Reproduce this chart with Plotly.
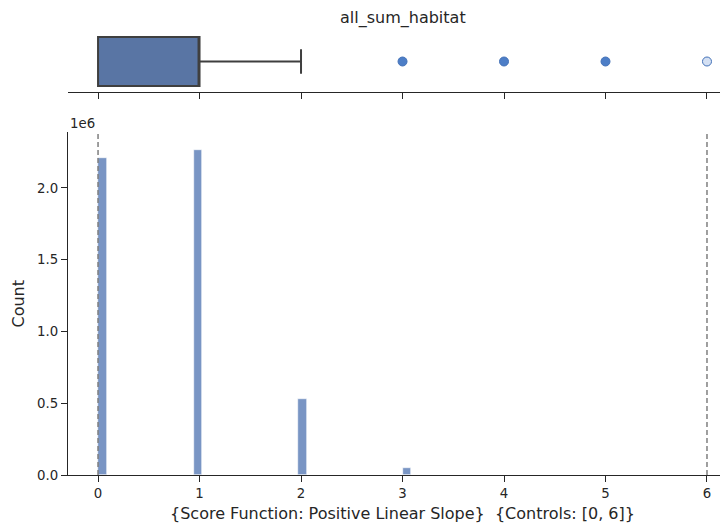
import numpy as np
import plotly.graph_objects as go

# ---- data ----
score_values = [0, 1, 2, 3, 4, 5, 6]
score_counts = [2209000, 2265000, 530000, 49000, 2000, 200, 10]
n_bins = 70
controls = [0, 6]
box_q1, box_median, box_q3 = 0, 1, 1
box_lower, box_upper = 0, 2
outliers = [3, 4, 5, 6]
title_text = "all_sum_habitat"
x_title = "{Score Function: Positive Linear Slope}  {Controls: [0, 6]}"
y_title = "Count"
y_ticks = [0, 0.5e6, 1.0e6, 1.5e6, 2.0e6]

# ---- styles ----
FONT = "DejaVu Sans"
TXT = "#262626"
FS_TICK = 13.3
FS_LAB = 16
bar_color = "#7995c4"
box_fill = "#5975a4"
box_edge = "#3f3f3f"

bin_size = (controls[1] - controls[0]) / n_bins

fig = go.Figure()

# histogram (main axes)
fig.add_trace(go.Histogram(
    x=score_values, y=score_counts, histfunc="sum",
    xbins=dict(start=controls[0], end=controls[1] + bin_size, size=bin_size),
    marker=dict(color=bar_color, line=dict(color="white", width=0.6)),
    xaxis="x", yaxis="y", showlegend=False,
))

# box plot (top axes)
fig.add_trace(go.Box(
    y=[0], q1=[box_q1], median=[box_median], q3=[box_q3],
    lowerfence=[box_lower], upperfence=[box_upper],
    orientation="h", width=0.8, whiskerwidth=0.5,
    fillcolor=box_fill, line=dict(color=box_edge, width=2),
    boxpoints=False, xaxis="x2", yaxis="y2", showlegend=False,
))
flier_fill = ["#4d7ec7", "#4d7ec7", "#4d7ec7", "#d4e0f3"]
fig.add_trace(go.Scatter(
    x=outliers, y=[0] * len(outliers), mode="markers",
    marker=dict(size=9, color=flier_fill, line=dict(color="#4472b8", width=1)),
    xaxis="x2", yaxis="y2", showlegend=False, hoverinfo="x",
))

# dashed control lines
for c in controls:
    fig.add_shape(type="line", x0=c, x1=c, y0=0, y1=1, xref="x", yref="y domain",
                  line=dict(color="#7f7f7f", width=1.5, dash="5px,3px"))

# page body has an 8px margin: figure is laid out 8px up/left of target coords
H = 444.0
W = 660.0
xr = [-0.296, 6.207]
axis_common = dict(showgrid=False, zeroline=False, linecolor=TXT, linewidth=1.3,
                   ticks="outside", tickcolor=TXT, tickwidth=1.3, ticklen=6,
                   tickfont=dict(family=FONT, size=FS_TICK, color=TXT))

fig.update_layout(
    width=720, height=519,
    margin=dict(l=60, r=0, t=23, b=52),
    paper_bgcolor="white", plot_bgcolor="white",
    bargap=0,
    xaxis=dict(domain=[0, 1], range=xr, showline=True, tickvals=score_values,
               anchor="y", **axis_common),
    yaxis=dict(domain=[0, 343 / H], range=[0, 2.39e6], showline=True,
               tickvals=y_ticks, ticktext=[f"{v/1e6:.1f}" for v in y_ticks],
               anchor="x", **axis_common),
    xaxis2=dict(domain=[0, 1], range=xr, showline=True, tickvals=score_values,
                showticklabels=False, anchor="y2", **axis_common),
    yaxis2=dict(domain=[1 - 61 / H, 1], range=[-0.5, 0.5], showline=False,
                showticklabels=False, ticks="", showgrid=False, zeroline=False,
                anchor="x2"),
    font=dict(family=FONT, size=FS_TICK, color=TXT),
    annotations=[
        dict(text=title_text, x=3, xref="x", y=1 + 13 / H, yref="paper",
             showarrow=False, xanchor="center", yanchor="middle",
             font=dict(family=FONT, size=FS_LAB, color=TXT)),
        dict(text=x_title, x=3, xref="x", y=-38 / H, yref="paper",
             showarrow=False, xanchor="center", yanchor="middle",
             font=dict(family=FONT, size=FS_LAB, color=TXT)),
        dict(text=y_title, x=-50 / W, xref="paper", y=(475 - 303.5) / H, yref="paper",
             showarrow=False, xanchor="center", yanchor="middle", textangle=-90,
             font=dict(family=FONT, size=FS_LAB, color=TXT)),
        dict(text="1e6", x=0, xref="paper", y=(475 - 123) / H, yref="paper",
             showarrow=False, xanchor="left", yanchor="middle",
             font=dict(family=FONT, size=FS_TICK, color=TXT)),
    ],
)

fig.write_html("out.html")
